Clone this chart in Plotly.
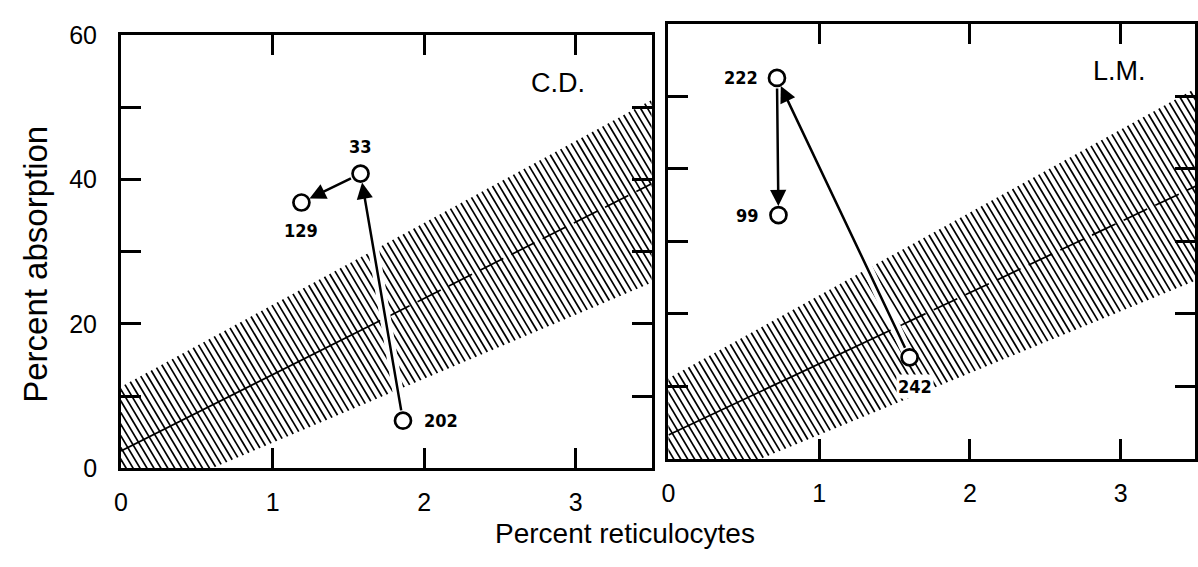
import numpy as np
import plotly.graph_objects as go

# ---------------- data ----------------
x_ticks = [0, 1, 2, 3]
x_tick_labels = ["0", "1", "2", "3"]
y_ticks = [0, 10, 20, 30, 40, 50, 60]
y_tick_labels = ["0", "", "20", "", "40", "", "60"]

band_x = [0.0, 3.5]          # x where band / regression values are given

# Panel C.D.
cd_name = "C.D."
cd_x = [1.86, 1.58, 1.19]
cd_y = [6.6, 40.8, 36.8]
cd_labels = ["202", "33", "129"]
cd_reg = [2.4, 39.4]
cd_upper = [11.3, 51.0]
cd_lower = [-5.3, 25.7]
cd_split = 1.75              # regression solid up to here, dashed beyond

# Panel L.M.
lm_name = "L.M."
lm_x = [1.60, 0.72, 0.73]
lm_y = [14.0, 52.5, 33.6]
lm_labels = ["242", "222", "99"]
lm_reg = [3.3, 37.6]
lm_upper = [11.1, 51.1]
lm_lower = [-5.2, 24.6]
lm_split = 1.55

# ---------------- styles / layout geometry ----------------
W, H = 1198, 567
FONT = "Liberation Sans, Arial, Helvetica, sans-serif"
NARROW = "Liberation Sans Narrow, Arial Narrow, DejaVu Sans Condensed, sans-serif"


def px_x(p):
    return min(1.0, max(0.0, p / W))


def px_y(p):
    return min(1.0, max(0.0, 1 - p / H))


# label placement: (xshift, yshift, xanchor)
cd_label_pos = [(19, 0, "left"), (0, 27, "center"), (0, -28, "center")]
lm_label_pos = [(5, -29, "center"), (-17, 0, "right"), (-17, 0, "right")]

Y_RANGE = [0, 60]
X_RANGE_L = [0, 3.5]
right_left_px, right_right_px = 667, W
X_RANGE_R = [0, (right_right_px - right_left_px) / 152.0]

panels = [
    dict(xa="x", ya="y", xdom=[px_x(115), px_x(650)], ydom=[px_y(478), px_y(22)],
         xr=X_RANGE_L,
         name=cd_name, name_xy=(2.88, 53.4), px=cd_x, py=cd_y, labels=cd_labels,
         lpos=cd_label_pos, reg=cd_reg, up=cd_upper, lo=cd_lower, split=cd_split),
    dict(xa="x2", ya="y2", xdom=[px_x(right_left_px), px_x(right_right_px)],
         ydom=[px_y(468), px_y(10)], xr=X_RANGE_R,
         name=lm_name, name_xy=(2.99, 53.5), px=lm_x, py=lm_y, labels=lm_labels,
         lpos=lm_label_pos, reg=lm_reg, up=lm_upper, lo=lm_lower, split=lm_split),
]

fig = go.Figure()
annotations = []


def lin(vals):
    b = (vals[1] - vals[0]) / (band_x[1] - band_x[0])
    a = vals[0] - b * band_x[0]
    return a, b


for p in panels:
    xa, ya = p["xa"], p["ya"]
    px_per_x = (p["xdom"][1] - p["xdom"][0]) * W / (p["xr"][1] - p["xr"][0])
    px_per_y = (p["ydom"][1] - p["ydom"][0]) * H / (Y_RANGE[1] - Y_RANGE[0])
    S = 1.75 * px_per_x / px_per_y          # steep "\" hatch lines
    step = S * 7.0 / px_per_x               # ~7 px horizontal spacing
    a1, b1 = lin(p["up"])
    a2, b2 = lin(p["lo"])
    c_max = p["up"][1] + S * band_x[1] + step
    cs = np.arange(-2.0, c_max, step)
    xu = (cs - a1) / (b1 + S)
    yu = a1 + b1 * xu
    xl = (cs - a2) / (b2 + S)
    yl = a2 + b2 * xl
    hx, hy = [], []
    for i in range(len(cs)):
        hx += [xu[i], xl[i], None]
        hy += [yu[i], yl[i], None]
    fig.add_trace(go.Scatter(x=hx, y=hy, mode="lines", xaxis=xa, yaxis=ya,
                             line=dict(color="black", width=1.7),
                             hoverinfo="skip", showlegend=False))
    # regression line: solid then dashed
    ar, br = lin(p["reg"])
    xs1 = [band_x[0], p["split"]]
    xs2 = [p["split"], band_x[1]]
    fig.add_trace(go.Scatter(x=xs1, y=[ar + br * v for v in xs1], mode="lines",
                             xaxis=xa, yaxis=ya, line=dict(color="black", width=1.7),
                             showlegend=False, hoverinfo="skip"))
    fig.add_trace(go.Scatter(x=xs2, y=[ar + br * v for v in xs2], mode="lines",
                             xaxis=xa, yaxis=ya,
                             line=dict(color="black", width=1.7, dash="26px,9px"),
                             showlegend=False, hoverinfo="skip"))
    # white gap around the arrow paths
    fig.add_trace(go.Scatter(x=p["px"], y=p["py"], mode="lines", xaxis=xa, yaxis=ya,
                             line=dict(color="white", width=11),
                             showlegend=False, hoverinfo="skip"))
    # points
    fig.add_trace(go.Scatter(x=p["px"], y=p["py"], mode="markers", xaxis=xa, yaxis=ya,
                             marker=dict(size=16, color="white",
                                         line=dict(color="black", width=2.7)),
                             showlegend=False, hoverinfo="skip"))
    # arrows between consecutive points
    for i in range(len(p["px"]) - 1):
        annotations.append(dict(
            x=p["px"][i + 1], y=p["py"][i + 1], ax=p["px"][i], ay=p["py"][i],
            xref=xa, yref=ya, axref=xa, ayref=ya, text="", showarrow=True,
            arrowhead=2, arrowsize=1.3, arrowwidth=2.5, arrowcolor="black",
            standoff=9, startstandoff=9))
    # point labels
    for i, lab in enumerate(p["labels"]):
        dx, dy, anc = p["lpos"][i]
        annotations.append(dict(
            x=p["px"][i], y=p["py"][i], xref=xa, yref=ya, text="<b>%s</b>" % lab,
            showarrow=False, xshift=dx, yshift=dy, xanchor=anc, yanchor="middle",
            font=dict(family=NARROW, size=18, color="black"),
            bgcolor="white", borderpad=1))
    # panel name
    annotations.append(dict(
        x=p["name_xy"][0], y=p["name_xy"][1], xref=xa, yref=ya, text=p["name"],
        showarrow=False, xanchor="center", yanchor="middle",
        font=dict(family=FONT, size=27, color="black")))

axis_common = dict(showline=True, linecolor="black", linewidth=3, mirror="ticks",
                   ticks="inside", ticklen=20, tickwidth=2.8, tickcolor="black",
                   showgrid=False, zeroline=False,
                   tickfont=dict(family=FONT, size=25, color="black"))

fig.update_layout(
    width=W, height=H, margin=dict(l=0, r=0, t=0, b=0),
    paper_bgcolor="white", plot_bgcolor="white",
    xaxis=dict(domain=panels[0]["xdom"], range=panels[0]["xr"], anchor="y",
               tickvals=x_ticks, ticktext=x_tick_labels, ticklabelstandoff=10,
               **axis_common),
    yaxis=dict(domain=panels[0]["ydom"], range=Y_RANGE, anchor="x",
               tickvals=y_ticks, ticktext=y_tick_labels, ticklabelstandoff=16,
               **axis_common),
    xaxis2=dict(domain=panels[1]["xdom"], range=panels[1]["xr"], anchor="y2",
                tickvals=x_ticks, ticktext=x_tick_labels, ticklabelstandoff=10,
                **axis_common),
    yaxis2=dict(domain=panels[1]["ydom"], range=Y_RANGE, anchor="x2",
                tickvals=y_ticks, showticklabels=False, **axis_common),
    annotations=annotations + [
        dict(x=px_x(623), y=px_y(547), xref="paper", yref="paper",
             text="Percent reticulocytes", showarrow=False,
             font=dict(family=FONT, size=28, color="black"),
             xanchor="center", yanchor="middle"),
        dict(x=px_x(28), y=px_y(263), xref="paper", yref="paper",
             text="Percent absorption", showarrow=False, textangle=-90,
             font=dict(family=FONT, size=33, color="black"),
             xanchor="center", yanchor="middle"),
    ],
)

fig.write_html("out.html")
